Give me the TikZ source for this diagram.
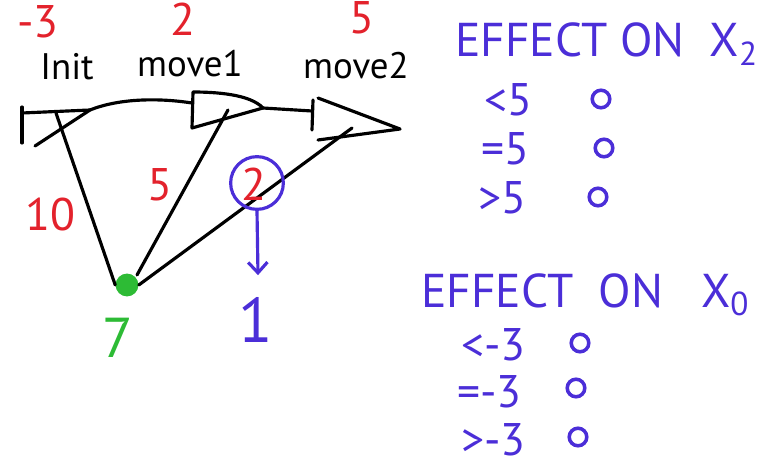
\documentclass[tikz,border=0pt]{standalone}
\usepackage{fontspec}
\setsansfont{PT Sans}
\usetikzlibrary{positioning,arrows.meta,calc}
\definecolor{inkred}{HTML}{E3222C}
\definecolor{inkblue}{HTML}{4B2ED8}
\definecolor{inkgreen}{HTML}{2DBB35}

\tikzset{
  hand/.style={font=\sffamily\fontsize{21}{23}\selectfont, inner sep=0pt},
  redval/.style={hand, text=inkred, font=\sffamily\fontsize{26}{28}\selectfont},
  blueval/.style={hand, text=inkblue, font=\sffamily\fontsize{26}{28}\selectfont},
  heading/.style={hand, text=inkblue, anchor=west, font=\sffamily\fontsize{27}{30}\selectfont},
  pen/.style={line width=1.8pt, line cap=round, line join=round},
  radio/.style={draw=inkblue, line width=2pt, circle, minimum size=10pt, inner sep=0pt}
}

\begin{document}
\begin{tikzpicture}[x=0.02cm, y=-0.02cm]
  \useasboundingbox (0,0) rectangle (766,466);
  \fill[white] (0,0) rectangle (766,466);

  % states
  \draw[pen] (22,107) -- (22,143);
  \draw[pen] (22,113) -- (90,110) -- (35,146);
  \draw[pen] (193,92) -- (192,128) -- (263,108) .. controls (250,94) and (215,92) .. cycle;
  \draw[pen] (313,100) -- (312,130);
  \draw[pen] (318,98) -- (400,129) -- (318,140);
  \coordinate (init) at (90,110);
  \coordinate (initd) at (56,113);
  \coordinate (mv1in) at (192,103);
  \coordinate (mv1out) at (263,108);
  \coordinate (mv1d) at (228,110);
  \coordinate (mv2in) at (312,111);
  \coordinate (mv2d) at (352,128);
  \node[circle, fill=inkgreen, inner sep=0pt, minimum size=13pt] (goal) at (127,285) {};

  % transitions
  \draw[pen] (init) .. controls (120,98) and (160,98) .. (mv1in);
  \draw[pen] (mv1out) -- (mv2in);
  \draw[pen] (initd) -- (goal.west);
  \draw[pen] (mv1d) -- ($(goal)+(10,-10)$);
  \draw[pen] (mv2d) -- (goal.east);

  % labels on top
  \node[redval] (vinit) at (38,22) {-3};
  \node[redval] (vmv1) at (183,19) {2};
  \node[redval] (vmv2) at (362,18) {5};
  \node[hand] (linit) at (67,67) {Init};
  \node[hand] (lmv1) at (190,64) {move1};
  \node[hand] (lmv2) at (356,66) {move2};

  % costs
  \node[redval] (c10) at (50,215) {10};
  \node[redval] (c5) at (160,185) {5};
  \node[redval] (c2) at (254,184) {2};
  \node[circle, draw=inkblue, line width=1.8pt, minimum size=30pt] (ring) at (257,183) {};
  \node[blueval, font=\sffamily\fontsize{36}{38}\selectfont] (one) at (256,320) {1};
  \draw[pen, draw=inkblue, -{Straight Barb[length=6pt, width=11pt]}] (ring.south) -- ($(one.north)+(2,-22)$);
  \node[hand, text=inkgreen, font=\sffamily\fontsize{32}{34}\selectfont] (seven) at (118,338) {7};

  % effect on X2
  \node[heading] (hx2) at (455,44) {EFFECT\ ON\ \ X\textsubscript{2}};
  \node[blueval, anchor=west] (a1) at (484,100) {<5};
  \node[blueval, anchor=west] (a2) at (481,149) {=5};
  \node[blueval, anchor=west] (a3) at (478,198) {>5};
  \node[radio] (r1) at (601,99) {};
  \node[radio] (r2) at (604,148) {};
  \node[radio] (r3) at (598,197) {};

  % effect on X0
  \node[heading] (hx0) at (421,295) {EFFECT\ \ ON\ \ \ X\textsubscript{0}};
  \node[blueval, anchor=west] (b1) at (461,345) {<-3};
  \node[blueval, anchor=west] (b2) at (457,392) {=-3};
  \node[blueval, anchor=west] (b3) at (461,440) {>-3};
  \node[radio] (s1) at (580,343) {};
  \node[radio] (s2) at (576,388) {};
  \node[radio] (s3) at (578,437) {};
\end{tikzpicture}
\end{document}
